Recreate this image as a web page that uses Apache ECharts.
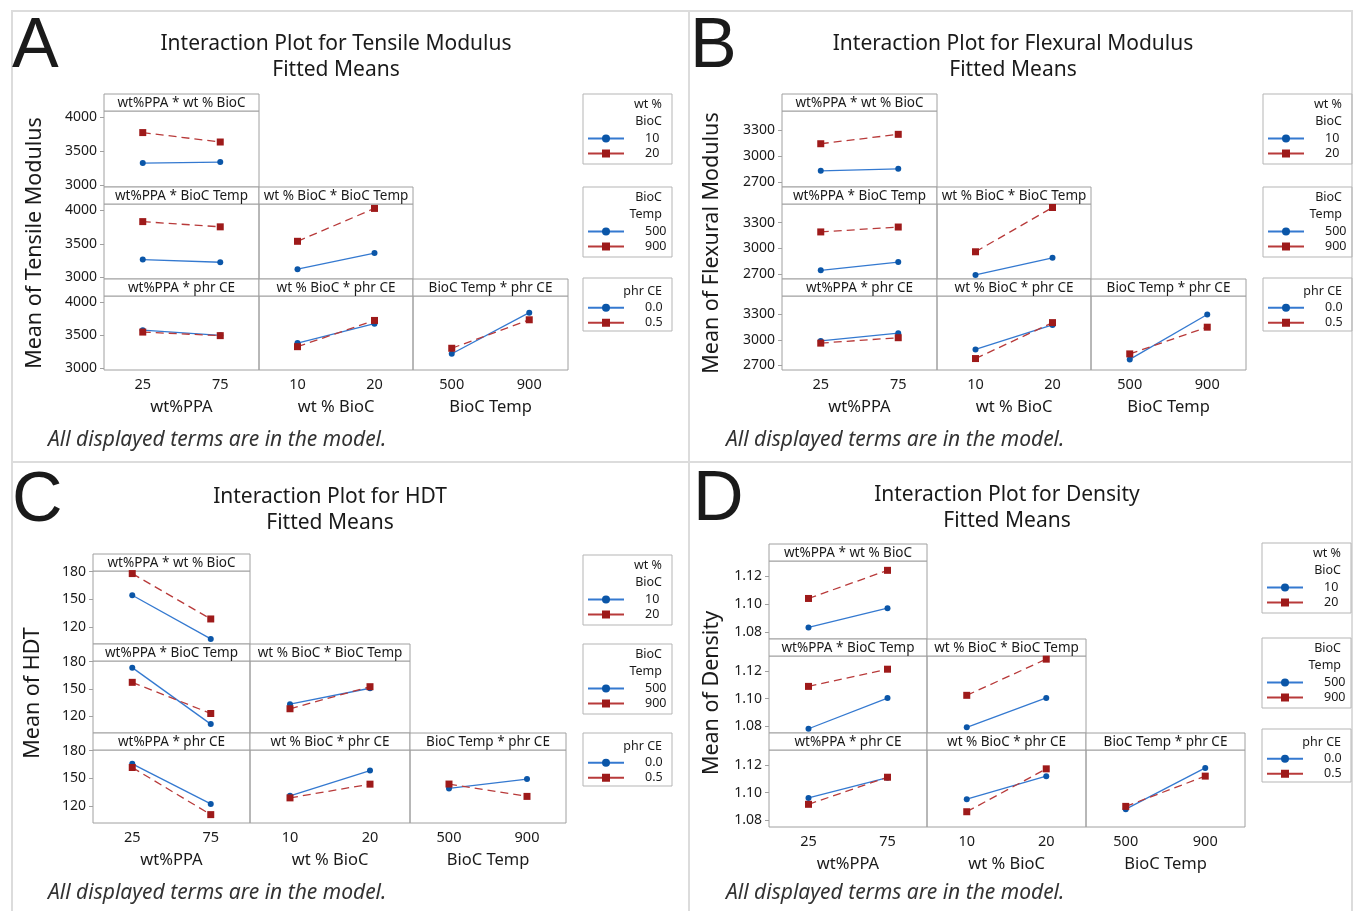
<!DOCTYPE html>
<html>
<head>
<meta charset="utf-8">
<script src="https://cdn.jsdelivr.net/npm/echarts@6/dist/echarts.min.js"></script>
<style>
html, body { margin: 0; padding: 0; background: #fff; }
#main { width: 1354px; height: 911px; }
</style>
</head>
<body>
<div id="main"></div>
<script>
// factor levels
var ppaLevels = ['25', '75'];
var biocLevels = ['10', '20'];
var tempLevels = ['500', '900'];
var ceLevels = ['0.0', '0.5'];

// fitted means, subplot order:
// PPA*BioC, PPA*Temp, BioC*Temp, PPA*CE, BioC*CE, Temp*CE
// Low = first level of the trace factor (blue), High = second level (red)
var tensileLow  = [[3327, 3342], [3265, 3225], [3122, 3363], [3578, 3500], [3382, 3676], [3221, 3843]];
var tensileHigh = [[3777, 3638], [3832, 3754], [3538, 4029], [3549, 3495], [3328, 3725], [3304, 3735]];
var flexLow  = [[2831, 2854], [2746, 2842], [2692, 2892], [2988, 3080], [2888, 3177], [2770, 3300]];
var flexHigh = [[3142, 3250], [3193, 3250], [2962, 3477], [2962, 3026], [2780, 3204], [2835, 3150]];
var hdtLow  = [[154.4, 107], [173.5, 111.3], [133.3, 150.8], [165.8, 122.2], [131, 158.5], [139, 149.2]];
var hdtHigh = [[178, 128.7], [157.3, 123], [128.2, 152.5], [161.8, 110.6], [128.8, 143.7], [143.8, 130.4]];
var densLow  = [[1.0833, 1.0971], [1.0781, 1.1004], [1.0791, 1.1005], [1.0961, 1.1109], [1.0952, 1.1120], [1.0880, 1.1180]];
var densHigh = [[1.1041, 1.1243], [1.1089, 1.1214], [1.1024, 1.1287], [1.0915, 1.1112], [1.0861, 1.1173], [1.0900, 1.1120]];

// y tick labels
var tensileTicks = [3000, 3500, 4000];
var flexTicks = [2700, 3000, 3300];
var hdtTicks = [120, 150, 180];
var densTicks = [1.08, 1.10, 1.12];

var stripTitles = ['wt%PPA * wt % BioC', 'wt%PPA * BioC Temp', 'wt % BioC * BioC Temp',
                   'wt%PPA * phr CE', 'wt % BioC * phr CE', 'BioC Temp * phr CE'];
var cellRows = [0, 1, 1, 2, 2, 2];
var cellCols = [0, 0, 1, 0, 1, 2];
var colLevels = [ppaLevels, biocLevels, tempLevels];
var colNames = ['wt%PPA', 'wt % BioC', 'BioC Temp'];
var rowLevels = [biocLevels, tempLevels, ceLevels];
var legendTitles = [['wt %', 'BioC'], ['BioC', 'Temp'], ['phr CE']];

var panels = [
  { letter: 'A', title: 'Interaction Plot for Tensile Modulus', yName: 'Mean of Tensile Modulus',
    low: tensileLow, high: tensileHigh, ticks: tensileTicks, min: 2975, max: 4095, dec: 0,
    cols: [104, 259, 413, 568], rows: [94, 187, 279, 370],
    letterX: 12, letterY: 48, titleX: 336, titleY: 44, yNameX: 35, yNameY: 243,
    footX: 48, footY: 440, legX: 583, legTops: [94, 187, 278] },
  { letter: 'B', title: 'Interaction Plot for Flexural Modulus', yName: 'Mean of Flexural Modulus',
    low: flexLow, high: flexHigh, ticks: flexTicks, min: 2645, max: 3518, dec: 0,
    cols: [782, 937, 1091, 1246], rows: [94, 187, 279, 370],
    letterX: 690, letterY: 48, titleX: 1013, titleY: 44, yNameX: 712, yNameY: 243,
    footX: 726, footY: 440, legX: 1263, legTops: [94, 187, 278] },
  { letter: 'C', title: 'Interaction Plot for HDT', yName: 'Mean of HDT',
    low: hdtLow, high: hdtHigh, ticks: hdtTicks, min: 101.5, max: 180.8, dec: 0,
    cols: [93, 250, 410, 566], rows: [554, 644, 733, 823],
    letterX: 12, letterY: 502, titleX: 330, titleY: 497, yNameX: 33, yNameY: 693,
    footX: 48, footY: 893, legX: 583, legTops: [555, 644, 733] },
  { letter: 'D', title: 'Interaction Plot for Density', yName: 'Mean of Density',
    low: densLow, high: densHigh, ticks: densTicks, min: 1.075, max: 1.131, dec: 2,
    cols: [769, 927, 1086, 1245], rows: [544, 639, 733, 827],
    letterX: 693, letterY: 501, titleX: 1007, titleY: 495, yNameX: 712, yNameY: 693,
    footX: 726, footY: 893, legX: 1262, legTops: [543, 638, 729] }
];

var FONT = '"Noto Sans", sans-serif';
var TEXT = '#1a1a1a';
var FRAME = '#a0a0a0';
var stripH = 17;

var grids = [], xAxes = [], yAxes = [], series = [], legends = [], elements = [];

// light panel frames
elements.push({ type: 'rect', shape: { x: 12, y: 11, width: 1340, height: 915 },
  style: { fill: null, stroke: '#dcdcdc', lineWidth: 2 } });
elements.push({ type: 'line', shape: { x1: 689, y1: 11, x2: 689, y2: 911 },
  style: { stroke: '#dcdcdc', lineWidth: 2 } });
elements.push({ type: 'line', shape: { x1: 12, y1: 462, x2: 1352, y2: 462 },
  style: { stroke: '#dcdcdc', lineWidth: 2 } });

function txt(x, y, s, font, align, fill, rotation) {
  var e = { type: 'text', x: x, y: y,
    style: { text: s, font: font, fill: fill || TEXT, textAlign: align || 'center', textVerticalAlign: 'middle' } };
  if (rotation) e.rotation = rotation;
  return e;
}

panels.forEach(function (p) {
  elements.push(txt(p.letterX, p.letterY, p.letter, '70px "Liberation Sans", Arial, sans-serif', 'left'));
  elements.push(txt(p.titleX, p.titleY, p.title, '21px ' + FONT));
  elements.push(txt(p.titleX, p.titleY + 26, 'Fitted Means', '21px ' + FONT));
  elements.push(txt(p.yNameX, p.yNameY, p.yName, '21.5px ' + FONT, 'center', TEXT, Math.PI / 2));
  elements.push(txt(p.footX, p.footY, 'All displayed terms are in the model.', 'italic 21px ' + FONT, 'left', '#333'));

  for (var k = 0; k < 6; k++) {
    var r = cellRows[k], c = cellCols[k];
    var gi = grids.length;
    var left = p.cols[c], w = p.cols[c + 1] - p.cols[c];
    var top = p.rows[r] + stripH;
    var bottomRow = r === 2;
    grids.push({ left: left, top: top, width: w, height: p.rows[r + 1] - top,
      show: true, borderColor: FRAME, borderWidth: 1, backgroundColor: 'transparent' });
    xAxes.push({ type: 'category', gridIndex: gi, data: colLevels[c], boundaryGap: true,
      axisLine: { show: false }, axisTick: { show: false }, splitLine: { show: false },
      axisLabel: { show: bottomRow, fontSize: 14.5, color: TEXT, fontFamily: FONT, margin: 7 },
      name: bottomRow ? colNames[c] : '', nameLocation: 'middle', nameGap: 29,
      nameTextStyle: { fontSize: 16.5, color: TEXT, fontFamily: FONT } });
    yAxes.push({ type: 'value', gridIndex: gi, min: p.min, max: p.max,
      axisLine: { show: false }, splitLine: { show: false },
      axisTick: { show: c === 0, length: 4, customValues: p.ticks, lineStyle: { color: FRAME } },
      axisLabel: { show: c === 0, customValues: p.ticks, fontSize: 14, color: TEXT, fontFamily: FONT, margin: 7,
        formatter: (function (d) { return function (v) { return v.toFixed(d); }; })(p.dec) } });
    var lv = rowLevels[r];
    series.push({ type: 'line', name: lv[0], xAxisIndex: gi, yAxisIndex: gi, data: p.low[k],
      symbol: 'circle', symbolSize: 6, animation: false, silent: true,
      itemStyle: { color: '#0b56a8' }, lineStyle: { color: '#3479d0', width: 1.3 } });
    series.push({ type: 'line', name: lv[1], xAxisIndex: gi, yAxisIndex: gi, data: p.high[k],
      symbol: 'rect', symbolSize: 7, animation: false, silent: true,
      itemStyle: { color: '#9e1a1a' }, lineStyle: { color: '#b83a3a', width: 1.3, type: [8, 5] } });
    // strip header
    elements.push({ type: 'rect', shape: { x: left, y: p.rows[r], width: w, height: stripH },
      style: { fill: '#fff', stroke: FRAME, lineWidth: 1 } });
    elements.push(txt(left + w / 2, p.rows[r] + stripH / 2 + 0.5, stripTitles[k], '13.5px ' + FONT));
  }

  // legends
  for (var j = 0; j < 3; j++) {
    var bt = p.legTops[j];
    var lines = legendTitles[j];
    var n = lines.length;
    var firstItem = bt + 14 + 14.75 * n;
    var boxH = n === 2 ? 70 : 53;
    var titleTop = bt + (n === 1 ? 13 : 10.5);
    elements.push({ type: 'rect', shape: { x: p.legX, y: bt, width: 89, height: boxH },
      style: { fill: null, stroke: '#b5b5b5', lineWidth: 1 } });
    lines.forEach(function (s, li) {
      elements.push(txt(p.legX + 79, titleTop + li * 16.5, s, '12.5px ' + FONT, 'right'));
    });
    legends.push({ left: p.legX + 4, top: firstItem - 5.5, orient: 'vertical', padding: 0,
      data: rowLevels[j], itemWidth: 36, itemHeight: 10, itemGap: 2, selectedMode: false,
      lineStyle: { type: 'solid' },
      textStyle: { fontSize: 12.5, color: TEXT, fontFamily: FONT, padding: [0, 0, 0, 16] } });
  }
});

var chart = echarts.init(document.getElementById('main'));
var option = {
  backgroundColor: '#fff',
  animation: false,
  grid: grids,
  xAxis: xAxes,
  yAxis: yAxes,
  legend: legends,
  series: series,
  graphic: { elements: elements }
};
chart.setOption(option);
</script>
</body>
</html>
